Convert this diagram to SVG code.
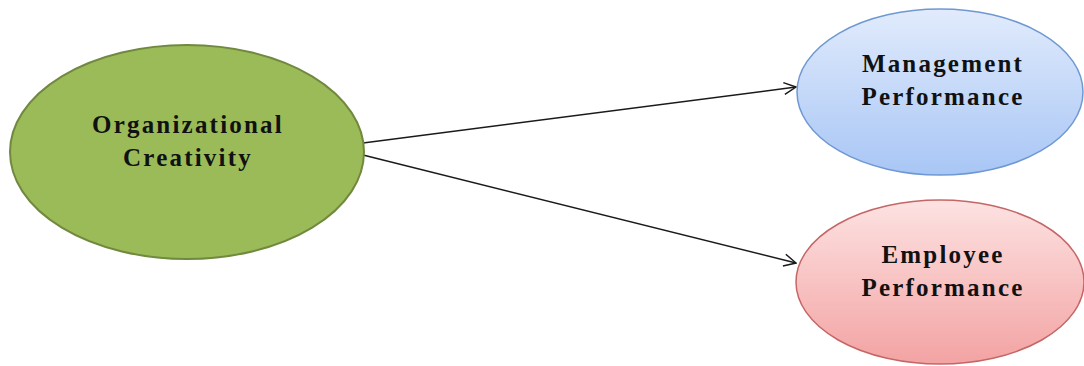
<svg xmlns="http://www.w3.org/2000/svg" width="1084" height="366" viewBox="0 0 1084 366">
<defs>
<linearGradient id="gBlue" x1="0" y1="0" x2="0" y2="1">
<stop offset="0" stop-color="#e1ebfc"/>
<stop offset="1" stop-color="#a8c6f5"/>
</linearGradient>
<linearGradient id="gPink" x1="0" y1="0" x2="0" y2="1">
<stop offset="0" stop-color="#fde2e2"/>
<stop offset="1" stop-color="#f3a3a3"/>
</linearGradient>
<marker id="arr" viewBox="0 0 14 14" refX="13" refY="7" markerWidth="14" markerHeight="14" markerUnits="userSpaceOnUse" orient="auto">
<path d="M1,1 L13,7 L1,13" fill="none" stroke="#1a1a1a" stroke-width="1.5"/>
</marker>
</defs>
<style>
.lbl{font-family:"Liberation Serif","Times New Roman",serif;font-weight:bold;font-size:25px;letter-spacing:2.2px;fill:#111;text-anchor:middle}
.conn{stroke:#1a1a1a;stroke-width:1.5;fill:none}
</style>
<rect width="1084" height="366" fill="#ffffff"/>
<g id="connectors">
<line class="conn" x1="363" y1="143" x2="796" y2="87" marker-end="url(#arr)"/>
<line class="conn" x1="363" y1="155" x2="796" y2="263" marker-end="url(#arr)"/>
</g>
<g id="organizational-creativity">
<ellipse cx="187" cy="152" rx="177" ry="107" fill="#9bbb59" stroke="#71893f" stroke-width="2"/>
<text class="lbl" x="188" y="133">Organizational</text>
<text class="lbl" x="188" y="166">Creativity</text>
</g>
<g id="management-performance">
<ellipse cx="940" cy="92" rx="143" ry="83" fill="url(#gBlue)" stroke="#6f98d2" stroke-width="1.5"/>
<text class="lbl" x="943" y="72">Management</text>
<text class="lbl" x="943" y="105">Performance</text>
</g>
<g id="employee-performance">
<ellipse cx="940" cy="282" rx="144" ry="82" fill="url(#gPink)" stroke="#c56666" stroke-width="1.5"/>
<text class="lbl" x="943" y="263">Employee</text>
<text class="lbl" x="943" y="296">Performance</text>
</g>
</svg>
